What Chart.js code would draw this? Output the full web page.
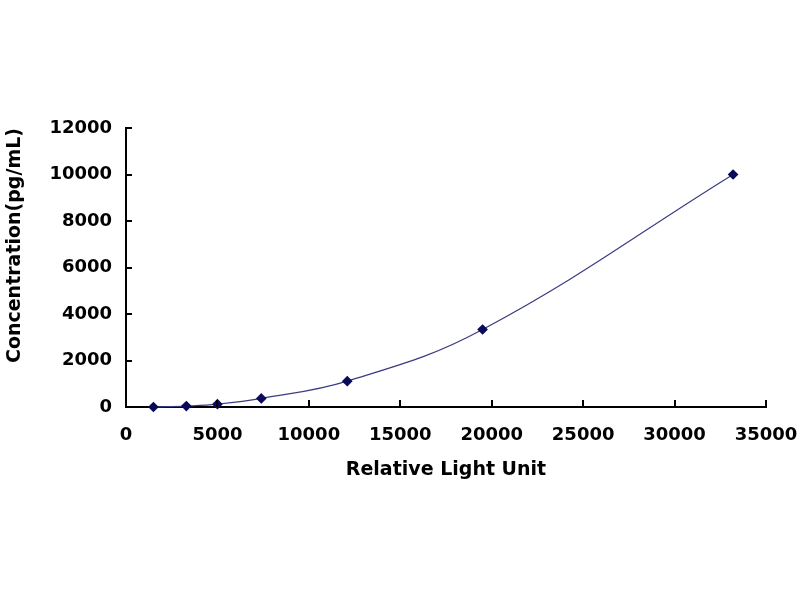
<!DOCTYPE html>
<html>
<head>
<meta charset="utf-8">
<script src="https://cdn.jsdelivr.net/npm/chart.js@4"></script>
<style>
html,body{margin:0;padding:0;background:#fff;}
#wrap{width:800px;height:600px;}
</style>
</head>
<body>
<div id="wrap"><canvas id="c" width="800" height="600"></canvas></div>
<script>
const rluValues = [1500, 3300, 5000, 7400, 12100, 19500, 33200];
const concValues = [0, 41, 123, 370, 1111, 3333, 10000];
const xTicks = [0, 5000, 10000, 15000, 20000, 25000, 30000, 35000];
const yTicks = [0, 2000, 4000, 6000, 8000, 10000, 12000];
const xTitle = 'Relative Light Unit';
const yTitle = 'Concentration(pg/mL)';

const points = rluValues.map((x, i) => ({x: x, y: concValues[i]}));
const FONT = 'DejaVu Sans';

const insideTicks = {
  id: 'insideTicks',
  afterDraw(chart) {
    const ctx = chart.ctx;
    const xs = chart.scales.x, ys = chart.scales.y;
    const area = chart.chartArea;
    ctx.save();
    ctx.strokeStyle = '#000';
    ctx.lineWidth = 2;
    ctx.beginPath();
    xs.ticks.forEach(t => {
      const px = Math.round(xs.getPixelForValue(t.value));
      ctx.moveTo(px, area.bottom);
      ctx.lineTo(px, area.bottom - 7);
    });
    ys.ticks.forEach(t => {
      const py = Math.round(ys.getPixelForValue(t.value));
      ctx.moveTo(area.left, py);
      ctx.lineTo(area.left + 6, py);
    });
    ctx.stroke();
    ctx.restore();
  }
};

new Chart(document.getElementById('c'), {
  type: 'scatter',
  data: {
    datasets: [{
      data: points,
      showLine: true,
      tension: 0.4,
      borderColor: '#3b3b82',
      borderWidth: 1.2,
      pointStyle: 'rectRot',
      pointRadius: 4.5,
      pointBackgroundColor: '#0a0a5a',
      pointBorderColor: '#0a0a5a',
      clip: false
    }]
  },
  options: {
    responsive: false,
    animation: false,
    devicePixelRatio: 1,
    layout: {padding: {left: 0, top: 128, right: 34, bottom: 0}},
    plugins: {legend: {display: false}, tooltip: {enabled: false}},
    scales: {
      x: {
        type: 'linear',
        min: 0, max: 35000,
        afterBuildTicks(s) { s.ticks = xTicks.map(v => ({value: v})); },
        afterFit(s) { s.height = 193; s.paddingLeft = 0; s.paddingRight = 0; },
        border: {color: '#000', width: 2},
        grid: {display: true, drawOnChartArea: false, drawTicks: false, color: 'rgba(0,0,0,0)'},
        ticks: {color: '#000', padding: 18, maxRotation: 0, autoSkip: false,
                callback: v => String(v),
                font: {family: FONT, size: 18, weight: 'bold'}},
        title: {display: true, text: xTitle, color: '#000',
                font: {family: FONT, size: 19, weight: 'bold'},
                padding: {top: 0, bottom: 119}}
      },
      y: {
        type: 'linear',
        min: 0, max: 12000,
        afterBuildTicks(s) { s.ticks = yTicks.map(v => ({value: v})); },
        afterFit(s) { s.width = 126; s.paddingTop = 0; s.paddingBottom = 0; },
        border: {color: '#000', width: 2},
        grid: {display: true, drawOnChartArea: false, drawTicks: false, color: 'rgba(0,0,0,0)'},
        ticks: {color: '#000', padding: 14, autoSkip: false,
                callback: v => String(v),
                font: {family: FONT, size: 18, weight: 'bold'}},
        title: {display: true, text: yTitle, color: '#000', align: 'end',
                font: {family: FONT, size: 19, weight: 'bold'},
                padding: {top: 4, bottom: 0}}
      }
    }
  },
  plugins: [insideTicks]
});
</script>
</body>
</html>
